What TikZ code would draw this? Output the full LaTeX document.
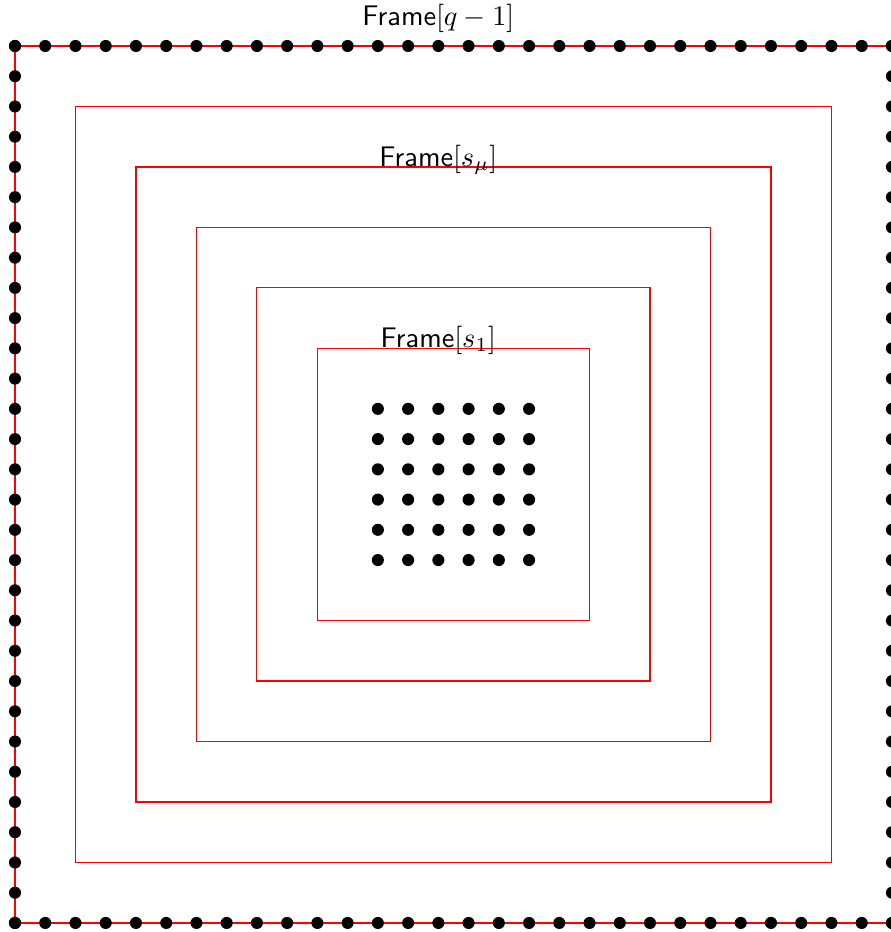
\documentclass[tikz,border=0pt]{standalone}
\begin{document}
\begin{tikzpicture}[x=0.375cm,y=-0.375cm,
  outerframe/.style={draw=red,line width=0.6pt},
  innerframe/.style={draw=red,line width=0.4pt},
  dotmark/.style={fill=black},
  framelabel/.style={anchor=base,inner sep=0pt,font=\sffamily}]
\useasboundingbox (-0.496,-1.521) rectangle (28.967,29.30);
% outer frame
\draw[outerframe] (0,0) rectangle (29,29);
\foreach \i in {0,...,29}{
  \fill[dotmark] (\i,0) circle (0.2);
  \fill[dotmark] (\i,29) circle (0.2);
  \fill[dotmark] (0,\i) circle (0.2);
  \fill[dotmark] (29,\i) circle (0.2);
}
% nested frames
\foreach \k in {2,4,6,8,10}{
  \draw[innerframe] (\k,\k) rectangle (29-\k,29-\k);
}
% inner grid
\foreach \i in {12,...,17}{
  \foreach \j in {12,...,17}{
    \fill[dotmark] (\i,\j) circle (0.2);
  }
}
% labels
\node[framelabel] (lq) at (14,-0.69) {Frame$[q-1]$};
\node[framelabel] (lmu) at (14,3.97) {Frame$[s_\mu]$};
\node[framelabel] (lone) at (14,9.97) {Frame$[s_1]$};
\end{tikzpicture}
\end{document}
